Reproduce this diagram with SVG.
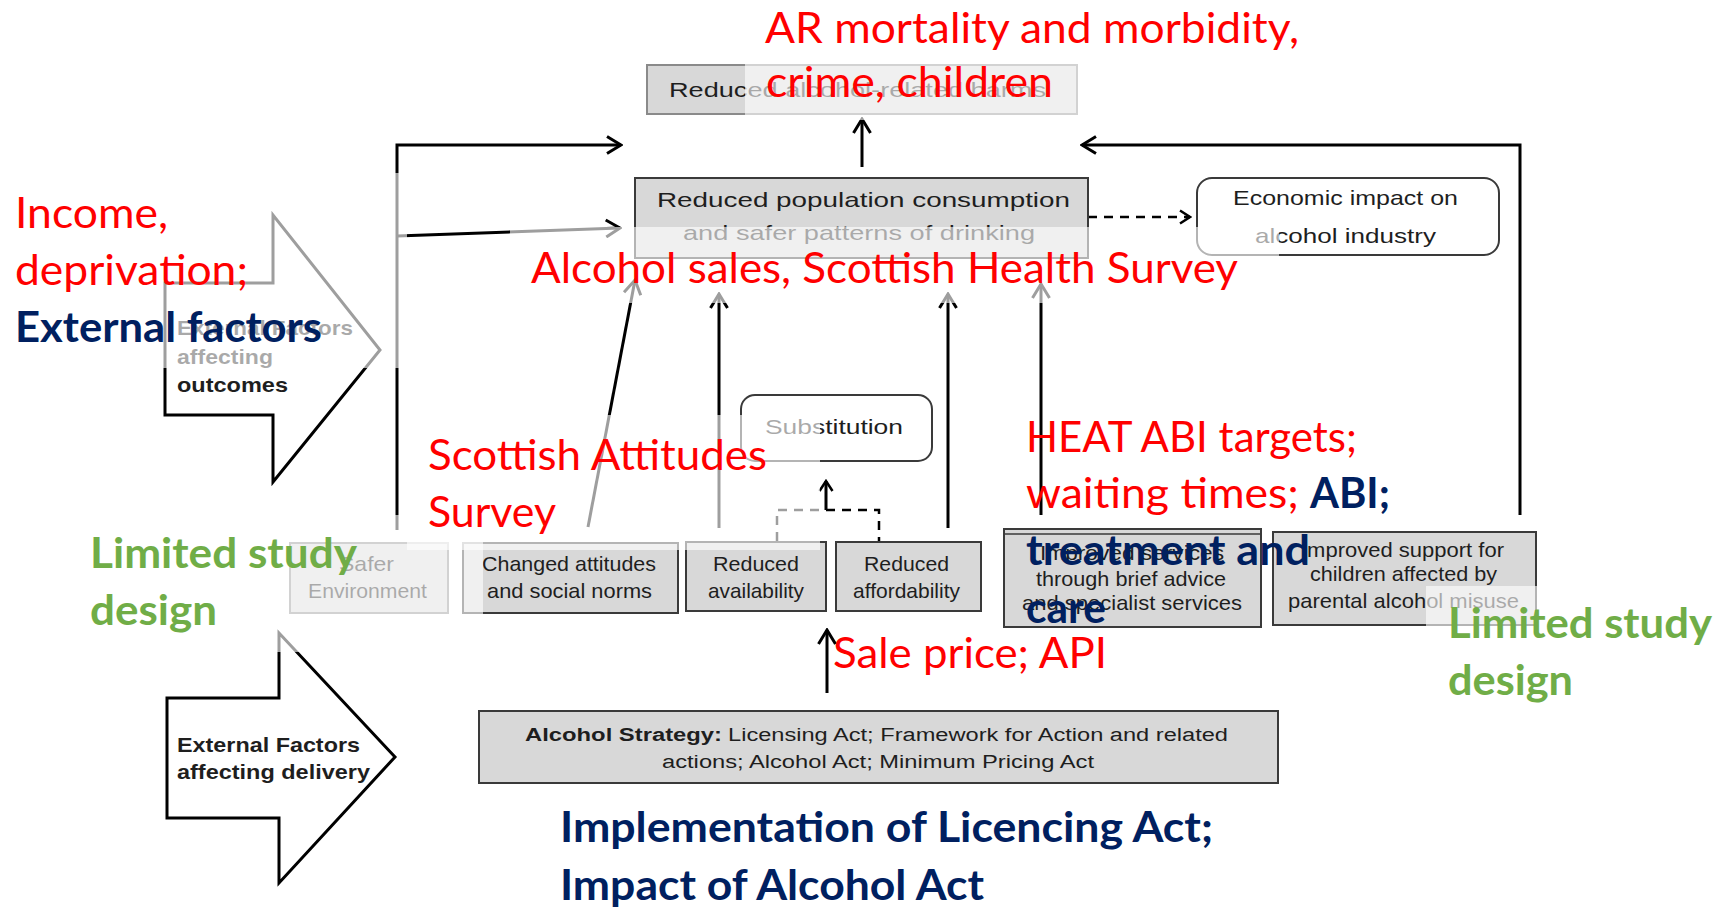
<svg xmlns="http://www.w3.org/2000/svg" width="1719" height="909" viewBox="0 0 1719 909">
<defs>
<style>
.bx{fill:#d8d8d8;stroke:#3a3a3a;stroke-width:2}
.bxl{fill:#d8d8d8;stroke:#8a8a8a;stroke-width:2}
.rb{fill:#fff;stroke:#3a3a3a;stroke-width:2}
.dt{font-family:'Liberation Sans',Arial,sans-serif;font-size:21px;fill:#1e1e1e}
.sm{font-size:18px}
.b{font-weight:bold}
.ln{fill:none;stroke:#000;stroke-width:3}
.ds{stroke-dasharray:9 7;stroke-width:2.5}
.ov{fill:#fff;fill-opacity:0.62}
.an{font-family:Lato,'Liberation Sans',sans-serif;font-size:42px}
.red{fill:#ff0000}
.navy{fill:#002060;font-weight:bold}
.green{fill:#70ad47;font-weight:bold}
.arw{fill:#fff;stroke:#000;stroke-width:3;stroke-linejoin:miter}
</style>
<marker id="ah" viewBox="0 0 18 20" refX="16" refY="10" markerWidth="18" markerHeight="20" markerUnits="userSpaceOnUse" orient="auto">
<path d="M2,1.5 L16,10 L2,18.5" fill="none" stroke="#000" stroke-width="3"/>
</marker>
<marker id="ahs" viewBox="0 0 14 16" refX="12" refY="8" markerWidth="14" markerHeight="16" markerUnits="userSpaceOnUse" orient="auto">
<path d="M2,1.5 L12,8 L2,14.5" fill="none" stroke="#000" stroke-width="2.5"/>
</marker>
</defs>
<rect width="1719" height="909" fill="#fff"/>

<g id="connectors">
<polyline class="ln" points="397,530 397,145 621,145" marker-end="url(#ah)"/>
<line class="ln" x1="397" y1="236" x2="620" y2="228" marker-end="url(#ah)"/>
<polyline class="ln" points="1520,515 1520,145 1082,145" marker-end="url(#ah)"/>
<line class="ln" x1="862" y1="167" x2="862" y2="119" marker-end="url(#ah)"/>
<line class="ln ds" x1="1088" y1="217" x2="1190" y2="217" marker-end="url(#ahs)"/>
<line class="ln" x1="588" y1="527" x2="635" y2="280" marker-end="url(#ah)"/>
<line class="ln" x1="719" y1="528" x2="719" y2="294" marker-end="url(#ah)"/>
<line class="ln" x1="948" y1="528" x2="948" y2="294" marker-end="url(#ah)"/>
<line class="ln" x1="1041" y1="515" x2="1041" y2="284" marker-end="url(#ah)"/>
<polyline class="ln ds" points="777,541 777,510 879,510 879,541"/>
<line class="ln" x1="826" y1="510" x2="826" y2="481" stroke-width="2.5" marker-end="url(#ahs)"/>
<line class="ln" x1="827" y1="693" x2="827" y2="630" marker-end="url(#ah)"/>
</g>

<g id="node-harms">
<rect class="bxl" x="647" y="65" width="430" height="49"/>
<text class="dt" x="669" y="97" textLength="377" lengthAdjust="spacingAndGlyphs">Reduced alcohol-related harms</text>
</g>
<g id="node-consumption">
<rect class="bx" x="635" y="178" width="453" height="80"/>
<text class="dt" x="657" y="207" font-size="22" textLength="413" lengthAdjust="spacingAndGlyphs">Reduced population consumption</text>
<text class="dt" x="683" y="240" font-size="22" textLength="352" lengthAdjust="spacingAndGlyphs">and safer patterns of drinking</text>
</g>
<g id="node-economic">
<rect class="rb" x="1197" y="178" width="302" height="77" rx="15"/>
<text class="dt" x="1233" y="205" textLength="225" lengthAdjust="spacingAndGlyphs">Economic impact on</text>
<text class="dt" x="1255" y="243" textLength="181" lengthAdjust="spacingAndGlyphs">alcohol industry</text>
</g>
<g id="node-outcomes-arrow">
<polygon class="arw" points="165,283 273,283 273,215 380,350 273,482 273,415 165,415"/>
<text class="dt b" x="177" y="335" font-size="20" textLength="176" lengthAdjust="spacingAndGlyphs">External Factors</text>
<text class="dt b" x="177" y="364" font-size="20" textLength="96" lengthAdjust="spacingAndGlyphs">affecting</text>
<text class="dt b" x="177" y="392" font-size="20" textLength="111" lengthAdjust="spacingAndGlyphs">outcomes</text>
</g>
<g id="node-substitution">
<rect class="rb" x="741" y="395" width="191" height="66" rx="14"/>
<text class="dt" x="765" y="434" textLength="138" lengthAdjust="spacingAndGlyphs">Substitution</text>
</g>
<g id="node-safer">
<rect class="bxl" x="290" y="543" width="158" height="70"/>
<text class="dt" x="339" y="571" font-size="20" textLength="55" lengthAdjust="spacingAndGlyphs">Safer</text>
<text class="dt" x="308" y="598" font-size="20" textLength="119" lengthAdjust="spacingAndGlyphs">Environment</text>
</g>
<g id="node-attitudes">
<rect class="bx" x="463" y="543" width="215" height="70"/>
<text class="dt" x="482" y="571" font-size="20" textLength="174" lengthAdjust="spacingAndGlyphs">Changed attitudes</text>
<text class="dt" x="487" y="598" font-size="20" textLength="165" lengthAdjust="spacingAndGlyphs">and social norms</text>
</g>
<g id="node-availability">
<rect class="bx" x="686" y="542" width="140" height="69"/>
<text class="dt" x="713" y="571" font-size="20" textLength="86" lengthAdjust="spacingAndGlyphs">Reduced</text>
<text class="dt" x="708" y="598" font-size="20" textLength="96" lengthAdjust="spacingAndGlyphs">availability</text>
</g>
<g id="node-affordability">
<rect class="bx" x="836" y="542" width="145" height="69"/>
<text class="dt" x="864" y="571" font-size="20" textLength="85" lengthAdjust="spacingAndGlyphs">Reduced</text>
<text class="dt" x="853" y="598" font-size="20" textLength="107" lengthAdjust="spacingAndGlyphs">affordability</text>
</g>
<g id="node-services">
<rect class="bx" x="1004" y="529" width="257" height="98"/>
<line x1="1004" y1="534" x2="1261" y2="534" stroke="#3a3a3a" stroke-width="1.5"/>
<text class="dt" x="1040" y="560" font-size="20" textLength="184" lengthAdjust="spacingAndGlyphs">Improved services</text>
<text class="dt" x="1036" y="586" font-size="20" textLength="190" lengthAdjust="spacingAndGlyphs">through brief advice</text>
<text class="dt" x="1022" y="610" font-size="20" textLength="220" lengthAdjust="spacingAndGlyphs">and specialist services</text>
</g>
<g id="node-support">
<rect class="bx" x="1273" y="532" width="263" height="93"/>
<text class="dt" x="1301" y="557" font-size="20" textLength="203" lengthAdjust="spacingAndGlyphs">Improved support for</text>
<text class="dt" x="1310" y="581" font-size="20" textLength="187" lengthAdjust="spacingAndGlyphs">children affected by</text>
<text class="dt" x="1288" y="608" font-size="20" textLength="231" lengthAdjust="spacingAndGlyphs">parental alcohol misuse</text>
</g>
<g id="node-delivery-arrow">
<polygon class="arw" points="167,698 279,698 279,633 395,757 279,883 279,818 167,818"/>
<text class="dt b" x="177" y="752" font-size="20" textLength="183" lengthAdjust="spacingAndGlyphs">External Factors</text>
<text class="dt b" x="177" y="779" font-size="20" textLength="193" lengthAdjust="spacingAndGlyphs">affecting delivery</text>
</g>
<g id="node-strategy">
<rect class="bx" x="479" y="711" width="799" height="72"/>
<text class="dt sm b" x="525" y="741" textLength="197" lengthAdjust="spacingAndGlyphs">Alcohol Strategy:</text>
<text class="dt sm" x="728" y="741" textLength="500" lengthAdjust="spacingAndGlyphs">Licensing Act; Framework for Action and related</text>
<text class="dt sm" x="662" y="768" textLength="432" lengthAdjust="spacingAndGlyphs">actions; Alcohol Act; Minimum Pricing Act</text>
</g>

<g id="note-limited-left">
<rect class="ov" x="72" y="515" width="411" height="137"/>
<text class="an green" x="90" y="568" textLength="267" lengthAdjust="spacingAndGlyphs">Limited study</text>
<text class="an green" x="90" y="625" textLength="127" lengthAdjust="spacingAndGlyphs">design</text>
</g>
<g id="note-harms">
<rect class="ov" x="745" y="0" width="565" height="120"/>
<text class="an red" x="765" y="43" textLength="534" lengthAdjust="spacingAndGlyphs">AR mortality and morbidity,</text>
<text class="an red" x="766" y="97" textLength="287" lengthAdjust="spacingAndGlyphs">crime, children</text>
</g>
<g id="note-income">
<rect class="ov" x="0" y="173" width="407" height="195"/>
<text class="an red" x="15" y="228" textLength="153" lengthAdjust="spacingAndGlyphs">Income,</text>
<text class="an red" x="15" y="285" textLength="233" lengthAdjust="spacingAndGlyphs">deprivation;</text>
<text class="an navy" x="15" y="342" textLength="307" lengthAdjust="spacingAndGlyphs">External factors</text>
</g>
<g id="note-sales">
<rect class="ov" x="510" y="227" width="769" height="76"/>
<text class="an red" x="531" y="283" textLength="707" lengthAdjust="spacingAndGlyphs">Alcohol sales, Scottish Health Survey</text>
</g>
<g id="note-attitudes">
<rect class="ov" x="407" y="415" width="413" height="135"/>
<text class="an red" x="428" y="470" textLength="339" lengthAdjust="spacingAndGlyphs">Scottish Attitudes</text>
<text class="an red" x="428" y="527" textLength="128" lengthAdjust="spacingAndGlyphs">Survey</text>
</g>
<g id="note-heat">
<text class="an red" x="1026" y="452" textLength="331" lengthAdjust="spacingAndGlyphs">HEAT ABI targets;</text>
<text class="an red" x="1026" y="508" textLength="273" lengthAdjust="spacingAndGlyphs">waiting times;</text>
<text class="an navy" x="1310" y="508" textLength="80" lengthAdjust="spacingAndGlyphs">ABI;</text>
<text class="an navy" x="1026" y="565" textLength="284" lengthAdjust="spacingAndGlyphs">treatment and</text>
<text class="an navy" x="1026" y="623" textLength="80" lengthAdjust="spacingAndGlyphs">care</text>
</g>
<g id="note-price">
<text class="an red" x="833" y="668" textLength="274" lengthAdjust="spacingAndGlyphs">Sale price; API</text>
</g>
<g id="note-limited-right">
<rect class="ov" x="1426" y="586" width="293" height="134"/>
<text class="an green" x="1448" y="638" textLength="264" lengthAdjust="spacingAndGlyphs">Limited study</text>
<text class="an green" x="1448" y="695" textLength="125" lengthAdjust="spacingAndGlyphs">design</text>
</g>
<g id="note-implementation">
<text class="an navy" x="560" y="842" textLength="653" lengthAdjust="spacingAndGlyphs">Implementation of Licencing Act;</text>
<text class="an navy" x="560" y="900" textLength="424" lengthAdjust="spacingAndGlyphs">Impact of Alcohol Act</text>
</g>
</svg>
